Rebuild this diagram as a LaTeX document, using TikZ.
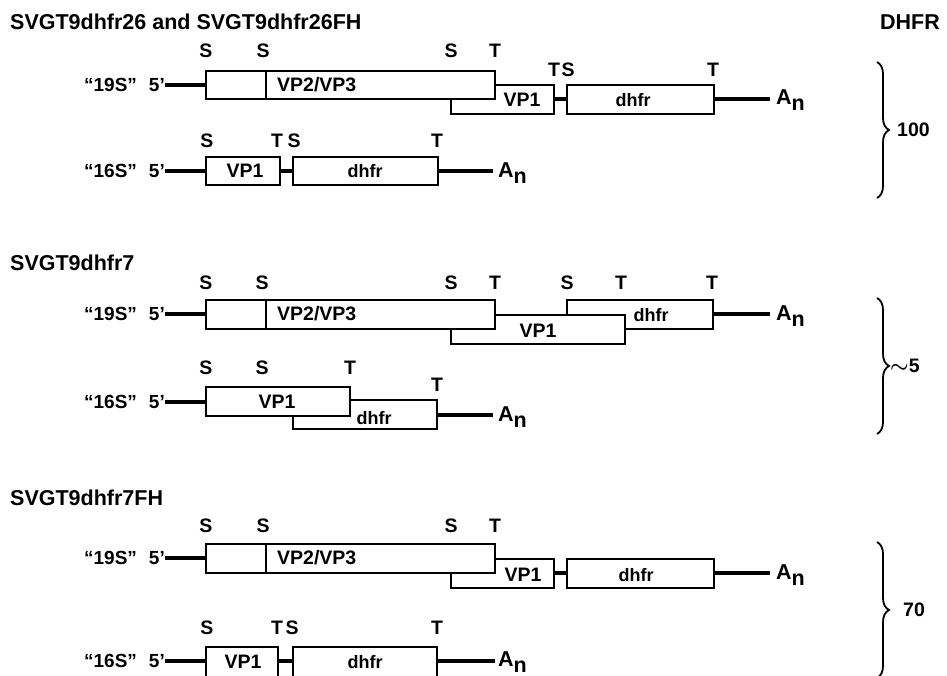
\documentclass[tikz,border=0pt]{standalone}
\usepackage{fontspec}
\setmainfont{Liberation Sans}
\usetikzlibrary{decorations.pathreplacing}
\begin{document}
\begin{tikzpicture}[x=1pt,y=-1pt,
  bx/.style={draw, fill=white, line width=1.8pt},
  dv/.style={line width=1.8pt},
  ld/.style={line width=3.2pt},
  txt/.style={inner sep=0pt, font=\fontsize{19.5}{19.5}\selectfont\bfseries},
  gene/.style={inner sep=0pt, font=\fontsize{18}{18}\selectfont\bfseries},
  ttl/.style={inner sep=0pt, anchor=west, font=\fontsize{21.5}{21.5}\selectfont\bfseries},
  an/.style={inner sep=0pt, anchor=base west, font=\fontsize{21.5}{21.5}\selectfont\bfseries},
  rna/.style={inner sep=0pt, anchor=east, font=\fontsize{19}{19}\selectfont\bfseries},
  brc/.style={decorate, decoration={brace, amplitude=12pt}, line width=1.8pt},
]
\useasboundingbox (0,0) rectangle (947,675);

%%%%%%%%%%%%%%%% Panel 1
\node[ttl] (t1) at (10,22) {SVGT9dhfr26 and SVGT9dhfr26FH};
\node[ttl,anchor=east] (dhfrhead) at (940,22) {DHFR};
% 19S
\node[rna] (r1a) at (165,85) {“19S”\hspace{12pt}5’};
\coordinate (r1aend) at (206,85);
\draw[ld] (r1a.east) -- (r1aend);
\draw[ld] (554,99) -- (567,99);
\draw[ld] (714,99) -- (770,99);
\draw[bx] (451,85) rectangle (554,114);
\draw[bx] (206,71) rectangle (495,99);
\draw[dv] (266,71) -- (266,99);
\draw[bx] (567,85) rectangle (714,114);
\node[txt,anchor=west] (v1a) at (277,85) {VP2/VP3};
\node[txt] (v1b) at (522,100) {VP1};
\node[gene] (d1a) at (633,100) {dhfr};
\node[an] (an1a) at (776,104) {A\raisebox{-6pt}{n}};
\node[txt] (s1a) at (206,51) {S};
\node[txt] (s1b) at (263,51) {S};
\node[txt] (s1c) at (451,51) {S};
\node[txt] (s1d) at (495,51) {T};
\node[txt] (s1e) at (554,70) {T};
\node[txt] (s1f) at (568,70) {S};
\node[txt] (s1g) at (713,70) {T};
% 16S
\node[rna] (r1b) at (165,171) {“16S”\hspace{12pt}5’};
\coordinate (r1bend) at (206,171);
\draw[ld] (r1b.east) -- (r1bend);
\draw[ld] (280,171) -- (293,171);
\draw[ld] (438,171) -- (493,171);
\draw[bx] (206,157) rectangle (280,185);
\draw[bx] (293,157) rectangle (438,185);
\node[txt] (v1c) at (245,171) {VP1};
\node[gene] (d1b) at (365,171) {dhfr};
\node[an] (an1b) at (498,177) {A\raisebox{-6pt}{n}};
\node[txt] (s1h) at (207,141) {S};
\node[txt] (s1i) at (277,141) {T};
\node[txt] (s1j) at (294,141) {S};
\node[txt] (s1k) at (437,141) {T};
\draw[brc] (877,62) -- (877,198);
\node[txt,anchor=west] (val1) at (897,130) {100};

%%%%%%%%%%%%%%%% Panel 2
\node[ttl] (t2) at (10,263) {SVGT9dhfr7};
% 19S
\node[rna] (r2a) at (165,314) {“19S”\hspace{12pt}5’};
\coordinate (r2aend) at (206,314);
\draw[ld] (r2a.east) -- (r2aend);
\draw[ld] (713,314) -- (770,314);
\draw[bx] (567,300) rectangle (713,329);
\draw[bx] (451,315) rectangle (625,344);
\draw[bx] (206,300) rectangle (495,329);
\draw[dv] (266,300) -- (266,329);
\node[txt,anchor=west] (v2a) at (277,314) {VP2/VP3};
\node[txt] (v2b) at (538,331) {VP1};
\node[gene] (d2a) at (651,315) {dhfr};
\node[an] (an2a) at (776,320) {A\raisebox{-6pt}{n}};
\node[txt] (s2a) at (206,283) {S};
\node[txt] (s2b) at (262,283) {S};
\node[txt] (s2c) at (451,283) {S};
\node[txt] (s2d) at (495,283) {T};
\node[txt] (s2e) at (567,283) {S};
\node[txt] (s2f) at (621,283) {T};
\node[txt] (s2g) at (712,283) {T};
% 16S
\node[rna] (r2b) at (165,402) {“16S”\hspace{12pt}5’};
\coordinate (r2bend) at (206,402);
\draw[ld] (r2b.east) -- (r2bend);
\draw[ld] (437,415) -- (493,415);
\draw[bx] (293,400) rectangle (437,429);
\draw[bx] (206,387) rectangle (350,416);
\node[txt] (v2c) at (277,402) {VP1};
\node[gene] (d2b) at (374,418) {dhfr};
\node[an] (an2b) at (498,421) {A\raisebox{-6pt}{n}};
\node[txt] (s2h) at (206,368) {S};
\node[txt] (s2i) at (262,368) {S};
\node[txt] (s2j) at (350,368) {T};
\node[txt] (s2k) at (437,385) {T};
\draw[brc] (877,298) -- (877,434);
\node[txt,anchor=west] (val2) at (890,366) {{\boldmath$\sim$}5};

%%%%%%%%%%%%%%%% Panel 3
\node[ttl] (t3) at (10,498) {SVGT9dhfr7FH};
% 19S
\node[rna] (r3a) at (165,558) {“19S”\hspace{12pt}5’};
\coordinate (r3aend) at (206,558);
\draw[ld] (r3a.east) -- (r3aend);
\draw[ld] (554,573) -- (567,573);
\draw[ld] (714,573) -- (770,573);
\draw[bx] (451,559) rectangle (554,588);
\draw[bx] (206,544) rectangle (495,573);
\draw[dv] (266,544) -- (266,573);
\draw[bx] (567,559) rectangle (714,588);
\node[txt,anchor=west] (v3a) at (277,558) {VP2/VP3};
\node[txt] (v3b) at (523,575) {VP1};
\node[gene] (d3a) at (636,575) {dhfr};
\node[an] (an3a) at (776,579) {A\raisebox{-6pt}{n}};
\node[txt] (s3a) at (206,526) {S};
\node[txt] (s3b) at (263,526) {S};
\node[txt] (s3c) at (451,526) {S};
\node[txt] (s3d) at (495,526) {T};
% 16S
\node[rna] (r3b) at (165,661) {“16S”\hspace{12pt}5’};
\coordinate (r3bend) at (206,661);
\draw[ld] (r3b.east) -- (r3bend);
\draw[ld] (278,661) -- (293,661);
\draw[ld] (437,661) -- (495,661);
\draw[bx] (206,647) rectangle (278,677);
\draw[bx] (293,647) rectangle (437,677);
\node[txt] (v3c) at (243,662) {VP1};
\node[gene] (d3b) at (365,662) {dhfr};
\node[an] (an3b) at (498,666) {A\raisebox{-6pt}{n}};
\node[txt] (s3e) at (207,628) {S};
\node[txt] (s3f) at (277,628) {T};
\node[txt] (s3g) at (292,628) {S};
\node[txt] (s3h) at (437,628) {T};
\draw[brc] (877,542) -- (877,678);
\node[txt,anchor=west] (val3) at (903,610) {70};
\end{tikzpicture}
\end{document}
